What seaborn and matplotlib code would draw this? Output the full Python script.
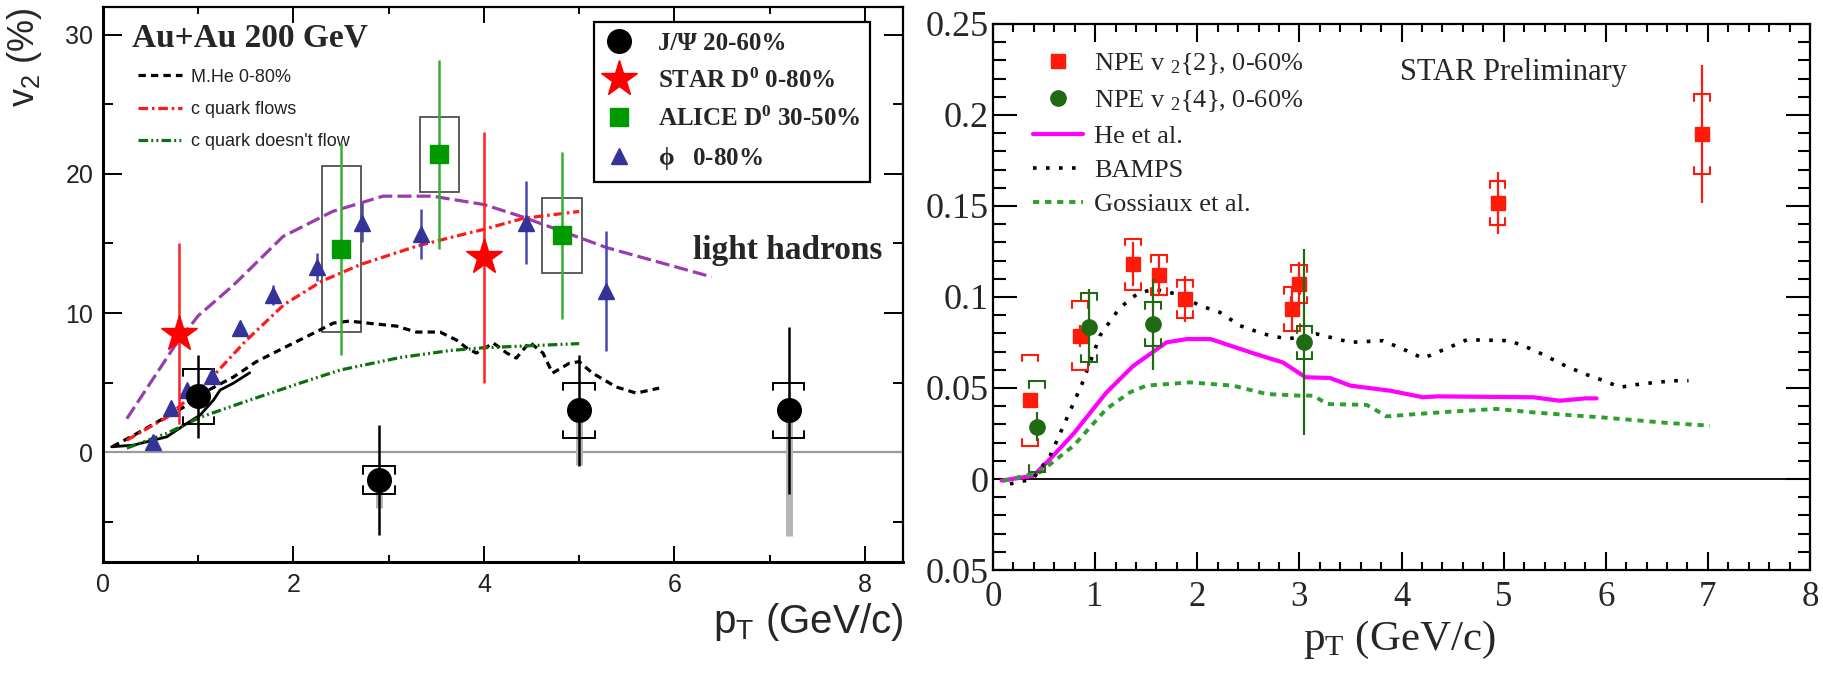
import numpy as np
import matplotlib
matplotlib.use("Agg")
import matplotlib.pyplot as plt
import seaborn as sns
from matplotlib.ticker import MultipleLocator, FixedLocator, FixedFormatter

sns.set_style("ticks")
plt.rcParams["font.family"] = ["Liberation Sans", "DejaVu Sans"]
plt.rcParams["mathtext.default"] = "regular"

# ---------------- left panel data ----------------
jpsi_pt = [1.0, 2.9, 5.0, 7.2]
jpsi_v2 = [4.0, -2.0, 3.0, 3.0]
jpsi_stat = [3.0, 3.95, 4.0, 6.0]
jpsi_sys = [2.0, 1.0, 2.0, 2.0]
jpsi_nonflow_low = [4.0, -4.0, -0.9, -6.0]

stard0_pt = [0.8, 4.0]
stard0_v2 = [8.5, 14.0]
stard0_err = [6.5, 9.0]

alice_pt = [2.5, 3.53, 4.82]
alice_v2 = [14.6, 21.4, 15.6]
alice_stat = [7.6, 6.8, 6.0]
alice_sys = [6.0, 2.7, 2.7]

phi_pt = [0.52, 0.71, 0.88, 1.14, 1.44, 1.79, 2.25, 2.72, 3.34, 4.44, 5.28]
phi_v2 = [0.7, 3.2, 4.5, 5.5, 8.9, 11.3, 13.3, 16.5, 15.7, 16.5, 11.6]
phi_err = [0.3, 0.3, 0.4, 0.5, 0.5, 0.7, 1.0, 1.4, 1.8, 3.0, 4.3]

lh_pt = [0.25, 0.5, 0.75, 1.0, 1.37, 1.89, 2.41, 2.94, 3.46, 4.0, 4.41, 5.29, 6.39]
lh_v2 = [2.4, 5.0, 7.6, 9.8, 12.0, 15.5, 17.3, 18.4, 18.4, 17.8, 16.9, 14.7, 12.6]

mhe_pt = [0.1, 0.32, 0.63, 0.84, 1.12, 1.37, 1.61, 1.93, 2.24, 2.42, 2.59, 2.77, 3.08,
          3.29, 3.54, 3.71, 3.82, 3.92, 4.1, 4.24, 4.34, 4.48, 4.62, 4.72, 4.9, 5.0,
          5.14, 5.39, 5.6, 5.84]
mhe_v2 = [0.4, 1.2, 2.4, 3.2, 4.5, 5.4, 6.5, 7.6, 8.65, 9.28, 9.42, 9.28, 9.06,
          8.63, 8.63, 8.06, 7.48, 7.12, 7.84, 7.12, 6.76, 7.9, 7.12, 5.68, 6.4, 6.5,
          5.68, 4.68, 4.24, 4.6]

solid_pt = [0.09, 0.32, 0.67, 0.88, 1.02, 1.16, 1.23, 1.37, 1.54]
solid_v2 = [0.38, 0.5, 1.1, 2.06, 2.66, 3.74, 4.46, 4.96, 5.7]

cflow_pt = [0.25, 0.67, 1.12, 1.5, 1.9, 2.3, 2.71, 3.29, 3.75, 3.99, 4.41, 5.0]
cflow_v2 = [0.86, 2.5, 5.2, 8.0, 10.6, 12.3, 13.5, 14.8, 15.6, 16.0, 16.8, 17.3]

nflow_pt = [0.25, 0.67, 1.02, 1.54, 2.07, 2.49, 3.12, 3.64, 3.99, 5.0]
nflow_v2 = [0.29, 1.35, 2.5, 3.74, 4.96, 5.9, 6.8, 7.3, 7.5, 7.8]

# ---------------- right panel data ----------------
npe2_pt = [0.36, 0.85, 1.37, 1.63, 1.88, 2.93, 3.0, 4.94, 6.94]
npe2_v2 = [0.0434, 0.0788, 0.118, 0.112, 0.0989, 0.0934, 0.107, 0.1516, 0.1896]
npe2_stat = [0.003, 0.006, 0.012, 0.011, 0.0125, 0.012, 0.012, 0.017, 0.038]
npe2_sys = [0.025, 0.019, 0.014, 0.011, 0.0105, 0.012, 0.0105, 0.012, 0.022]

npe4_pt = [0.43, 0.94, 1.57, 3.05]
npe4_v2 = [0.0288, 0.0833, 0.085, 0.0751]
npe4_stat = [0.008, 0.021, 0.025, 0.051]
npe4_sys = [0.025, 0.019, 0.012, 0.009]

he_pt = [0.085, 0.395, 0.56, 0.79, 1.11, 1.37, 1.70, 1.9, 2.13, 2.52, 2.84, 3.06, 3.30,
         3.50, 3.89, 4.21, 4.35, 5.29, 5.55, 5.80, 5.91]
he_v2 = [-0.0009, 0.0018, 0.011, 0.025, 0.0475, 0.062, 0.0751, 0.0769, 0.0769, 0.0696,
         0.064, 0.0559, 0.0555, 0.0513, 0.0485, 0.0449, 0.0454, 0.0449, 0.043, 0.0443, 0.0443]

bamps_pt = [0.166, 0.39, 0.56, 0.72, 0.87, 1.05, 1.24, 1.41, 1.57, 1.80, 2.03, 2.22, 2.42,
            2.65, 2.88, 3.17, 3.50, 3.82, 4.05, 4.21, 4.41, 4.64, 5.06, 5.29, 5.59, 5.78,
            5.98, 6.14, 6.34, 6.66, 6.81]
bamps_v2 = [-0.0027, 0.0, 0.0128, 0.033, 0.052, 0.079, 0.094, 0.1016, 0.1044, 0.1016,
            0.0952, 0.0916, 0.0842, 0.0797, 0.0769, 0.0797, 0.0751, 0.076, 0.0705, 0.0663,
            0.071, 0.0765, 0.076, 0.071, 0.0626, 0.058, 0.054, 0.0504, 0.0522, 0.054, 0.054]

gos_pt = [0.1, 0.46, 0.79, 1.11, 1.34, 1.50, 1.93, 2.35, 2.68, 3.0, 3.14, 3.27, 3.66, 3.76,
          3.85, 4.15, 4.48, 4.93, 5.29, 5.62, 5.95, 6.27, 6.60, 7.02]
gos_v2 = [-0.001, 0.0037, 0.0183, 0.0385, 0.0476, 0.0513, 0.0531, 0.0513, 0.0467, 0.0458,
          0.0458, 0.0412, 0.0407, 0.0375, 0.0344, 0.0357, 0.037, 0.0385, 0.0366, 0.0352,
          0.0339, 0.0324, 0.0308, 0.0293]

right_ytick_vals = [-0.05, 0.0, 0.05, 0.1, 0.15, 0.2, 0.25]
right_ytick_labels = ["0.05", "0", "0.05", "0.1", "0.15", "0.2", "0.25"]


def brackets(ax, x, y, sys, hw, tick, color, lw, z=4):
    xs, ys = [], []
    for xi, yi, si in zip(x, y, sys):
        top, bot = yi + si, yi - si
        xs += [xi - hw, xi - hw, xi + hw, xi + hw, np.nan]
        ys += [top - tick, top, top, top - tick, np.nan]
        xs += [xi - hw, xi - hw, xi + hw, xi + hw, np.nan]
        ys += [bot + tick, bot, bot, bot + tick, np.nan]
    ax.plot(xs, ys, color=color, lw=lw, zorder=z, solid_joinstyle="miter")


def curve(ax, x, y, color, ls, lw, label=None, z=3):
    sns.lineplot(x=x, y=y, ax=ax, sort=False, estimator=None, color=color,
                 linestyle=ls, lw=lw, legend=False, zorder=z)
    ln = ax.lines[-1]
    if label:
        ln.set_label(label)
    return ln


fig = plt.figure(figsize=(18.23, 6.74), dpi=100)
axL = fig.add_axes([0.0565, 0.1662, 0.4388, 0.8234])
axR = fig.add_axes([0.5447, 0.1543, 0.4482, 0.8101])

# ================= LEFT PANEL =================
ax = axL
ax.axhline(0, color="#9a9a9a", lw=1.6, zorder=1)

curve(ax, lh_pt, lh_v2, "#9a3cab", (0, (4.4, 1.6)), 2.3)
l_mhe = curve(ax, mhe_pt, mhe_v2, "black", (0, (2.3, 1.6)), 2.3, "M.He 0-80%")
curve(ax, solid_pt, solid_v2, "black", "-", 2.0)
l_cf = curve(ax, cflow_pt, cflow_v2, "#ff1a1a", (0, (3.0, 1.2, 0.8, 1.2)), 2.3, "c quark flows")
l_nf = curve(ax, nflow_pt, nflow_v2, "#0d700d", (0, (3.0, 1.0, 0.6, 1.0, 0.6, 1.0)), 2.3,
             "c quark doesn't flow")

# ALICE systematic boxes
ax.bar(alice_pt, [2 * s for s in alice_sys], bottom=[v - s for v, s in zip(alice_v2, alice_sys)],
       width=0.41, fill=False, edgecolor="#505050", lw=1.3, zorder=2)

# J/psi non-flow grey bars
ax.vlines(jpsi_pt, jpsi_nonflow_low, jpsi_v2, color="#b4b4b4", lw=5, zorder=2)
brackets(ax, jpsi_pt, jpsi_v2, jpsi_sys, 0.165, 0.55, "black", 1.4)

e_phi = ax.errorbar(phi_pt, phi_v2, yerr=phi_err, fmt="^", color="#333399", ecolor="#4848b0",
                    ms=12, elinewidth=1.8, capsize=0, zorder=5)
e_al = ax.errorbar(alice_pt, alice_v2, yerr=alice_stat, fmt="s", color="#009900", ecolor="#33b033",
                   ms=13.5, elinewidth=1.8, capsize=0, zorder=6)
e_st = ax.errorbar(stard0_pt, stard0_v2, yerr=stard0_err, fmt="*", color="#ff0000", ecolor="#ff2020",
                   ms=27, elinewidth=1.8, capsize=0, zorder=6)
e_jp = ax.errorbar(jpsi_pt, jpsi_v2, yerr=jpsi_stat, fmt="o", color="black", ecolor="black",
                   ms=17, elinewidth=1.8, capsize=0, zorder=7)

ax.set_xlim(0, 8.4)
ax.set_ylim(-7.9, 32)
ax.xaxis.set_major_locator(MultipleLocator(2))
ax.xaxis.set_minor_locator(MultipleLocator(1))
ax.yaxis.set_major_locator(FixedLocator([0, 10, 20, 30]))
ax.yaxis.set_minor_locator(FixedLocator([-5, 5, 15, 25]))
ax.tick_params(which="both", direction="in", top=True, right=True, width=1.4, color="black")
ax.tick_params(axis="x", which="major", length=11.5, labelsize=18, pad=8)
ax.tick_params(axis="x", which="minor", length=5)
ax.tick_params(axis="y", which="major", length=14, labelsize=18, pad=7)
ax.tick_params(axis="y", which="minor", length=7)
for lab in ax.get_xticklabels() + ax.get_yticklabels():
    lab.set_color("#222222")
for sp in ax.spines.values():
    sp.set_linewidth(1.6)
    sp.set_color("black")
ax.spines["left"].set_linewidth(2.2)
ax.spines["bottom"].set_linewidth(2.2)

ax.set_ylabel(r"v$_2$ (%)", fontsize=26, loc="top")
ax.yaxis.set_label_coords(-0.074, 1.0)
ax.set_xlabel(r"p$_T$ (GeV/c)", fontsize=29, loc="right")
ax.xaxis.set_label_coords(1.0, -0.07)

ax.text(0.036, 0.944, "Au+Au 200 GeV", transform=ax.transAxes, fontsize=24,
        fontweight="bold", family="Liberation Serif", va="center", ha="left")
ax.text(0.7375, 0.562, "light hadrons", transform=ax.transAxes, fontsize=24,
        fontweight="bold", family="Liberation Serif", va="center", ha="left")

leg1 = ax.legend(handles=[l_mhe, l_cf, l_nf], loc="upper left", bbox_to_anchor=(0.044, 0.889),
                 frameon=False, fontsize=13, handlelength=2.4, handletextpad=0.5,
                 labelspacing=0.85, borderpad=0, borderaxespad=0)
for t in leg1.get_texts():
    t.set_color("#222222")
ax.add_artist(leg1)

leg2 = ax.legend([e_jp[0], e_st[0], e_al[0], e_phi[0]],
                 ["J/Ψ 20-60%", r"STAR D$^{0}$ 0-80%", r"ALICE D$^{0}$ 30-50%", r"$\phi$   0-80%"],
                 loc="upper left", bbox_to_anchor=(0.614, 0.973),
                 borderaxespad=0, handlelength=1.2, handletextpad=0.95,
                 labelspacing=0.55, borderpad=0.4, fancybox=False, framealpha=1,
                 edgecolor="black", prop={"family": "Liberation Serif", "weight": "bold", "size": 18})
leg2.get_frame().set_linewidth(1.6)

# ================= RIGHT PANEL =================
ax = axR
ax.axhline(0, color="black", lw=1.3, zorder=1)
l_he = curve(ax, he_pt, he_v2, "#ff00ff", "-", 3.0, "He et al.")
l_ba = curve(ax, bamps_pt, bamps_v2, "black", (0, (1.0, 2.6)), 2.6, "BAMPS")
l_go = curve(ax, gos_pt, gos_v2, "#2ca02c", (0, (1.6, 1.5)), 2.8, "Gossiaux et al.")

brackets(ax, npe2_pt, npe2_v2, npe2_sys, 0.078, 0.0037, "#ff1a0a", 1.5)
brackets(ax, npe4_pt, npe4_v2, npe4_sys, 0.078, 0.0037, "#1f6a12", 1.5)
e2 = ax.errorbar(npe2_pt, npe2_v2, yerr=npe2_stat, fmt="s", color="#ff1a0a", ecolor="#ff1a0a",
                 ms=10.5, elinewidth=1.6, capsize=0, zorder=6)
e4 = ax.errorbar(npe4_pt, npe4_v2, yerr=npe4_stat, fmt="o", color="#1f6a12", ecolor="#1f6a12",
                 ms=11, elinewidth=1.6, capsize=0, zorder=7)

ax.set_xlim(0, 8)
ax.set_ylim(-0.05, 0.25)
ax.xaxis.set_major_locator(MultipleLocator(1))
ax.xaxis.set_minor_locator(MultipleLocator(0.2))
ax.yaxis.set_major_locator(FixedLocator(right_ytick_vals))
ax.yaxis.set_major_formatter(FixedFormatter(right_ytick_labels))
ax.yaxis.set_minor_locator(MultipleLocator(0.01))
ax.tick_params(which="both", direction="in", top=True, right=True, width=1.5, color="black")
ax.tick_params(axis="x", which="major", length=13, labelsize=25, pad=8)
ax.tick_params(axis="x", which="minor", length=6)
ax.tick_params(axis="y", which="major", length=17, labelsize=26, pad=3)
ax.tick_params(axis="y", which="minor", length=9)
for lab in ax.get_xticklabels() + ax.get_yticklabels():
    lab.set_family("Liberation Serif")
for sp in ax.spines.values():
    sp.set_linewidth(1.6)
    sp.set_color("black")

ax.set_xlabel(r"p$_T$ (GeV/c)", fontsize=31, family="Liberation Serif")
ax.xaxis.set_label_coords(0.498, -0.09)

ax.text(0.498, 0.912, "STAR Preliminary", transform=ax.transAxes, fontsize=22,
        family="Liberation Serif", va="center", ha="left")

leg3 = ax.legend([e2[0], e4[0], l_he, l_ba, l_go],
                 [r"NPE v $_2${2}, 0-60%", r"NPE v $_2${4}, 0-60%", "He et al.", "BAMPS",
                  "Gossiaux et al."],
                 loc="upper left", bbox_to_anchor=(0.049, 0.95), borderaxespad=0,
                 frameon=False, handlelength=1.9, handletextpad=0.4, labelspacing=0.4,
                 borderpad=0, prop={"family": "Liberation Serif", "size": 19})

fig.savefig("out.png", dpi=100, facecolor="white")
